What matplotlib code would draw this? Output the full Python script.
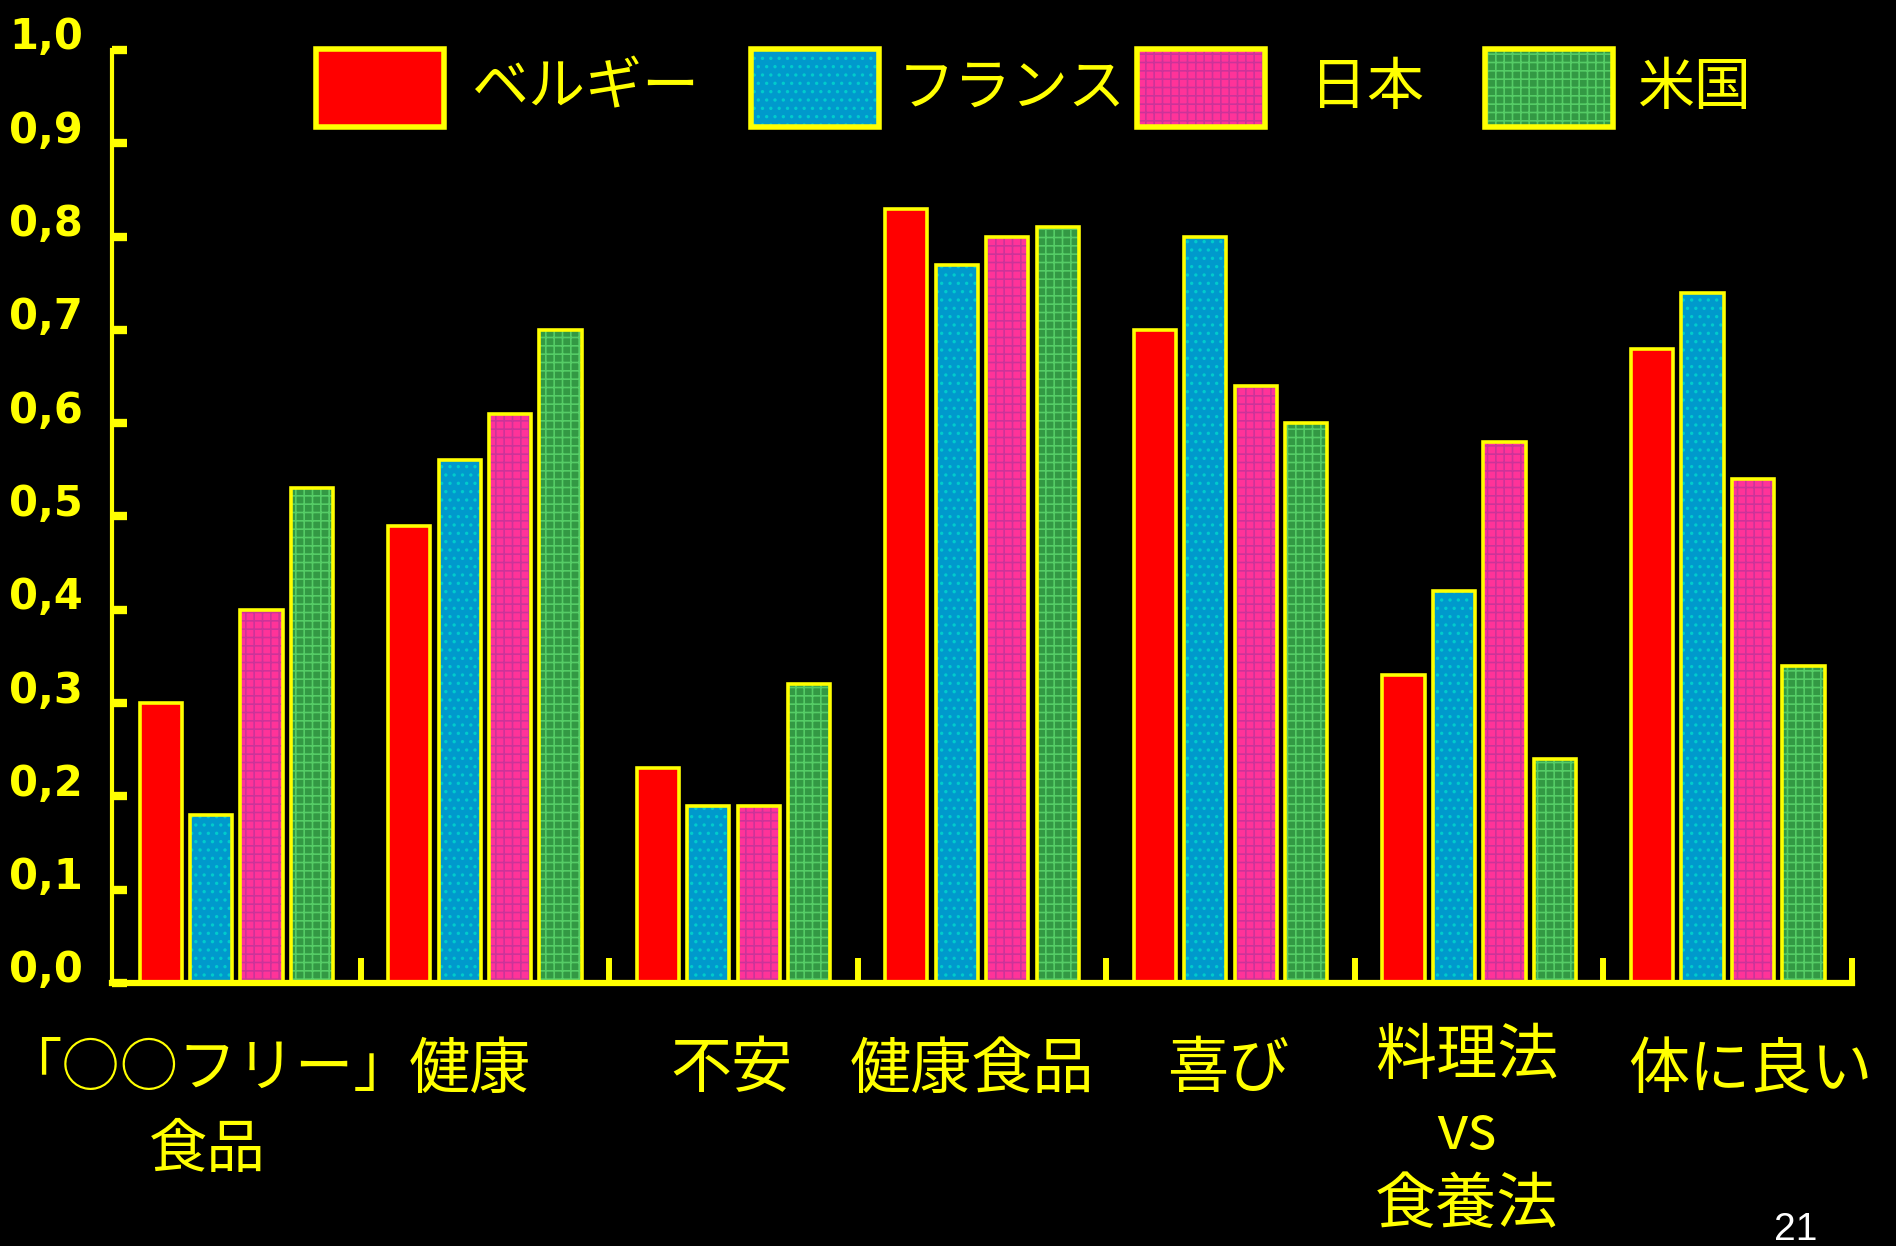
import matplotlib
matplotlib.use("Agg")
import matplotlib.pyplot as plt
import matplotlib.transforms as mtransforms
from matplotlib.patches import Rectangle
import numpy as np

plt.rcParams['font.family'] = ['Noto Sans CJK JP', 'DejaVu Sans']
plt.rcParams['hatch.linewidth'] = 1.2

# -----------------------
# Data
# -----------------------
categories = ["「○○フリー」\n食品", "健康", "不安", "健康食品", "喜び",
              "料理法\nvs\n食養法", "体に良い"]
countries = ["ベルギー", "フランス", "日本", "米国"]
belgium = [0.30, 0.49, 0.23, 0.83, 0.70, 0.33, 0.68]
france = [0.18, 0.56, 0.19, 0.77, 0.80, 0.42, 0.74]
japan = [0.40, 0.61, 0.19, 0.80, 0.64, 0.58, 0.54]
usa = [0.53, 0.70, 0.32, 0.81, 0.60, 0.24, 0.34]
yticks = np.round(np.arange(0, 1.01, 0.1), 1)

series = [belgium, france, japan, usa]
faces = ["#ff0000", "#0099cc", "#ff3399", "#339944"]
hatch_colors = ["#ff0000", "#00cccc", "#cc3399", "#55cc66"]
hatches = [None, "..", "++", "++"]
YEL = "#ffff00"

# -----------------------
# Plot
# -----------------------
fig = plt.figure(figsize=(18.96, 12.46), dpi=100, facecolor="black")
ax = fig.add_axes([0.0591, 0.2111, 0.9177, 0.7488])
ax.set_facecolor("black")

x = np.arange(len(categories)) + 0.5
pitch = 0.203
width = 0.17

for k, vals in enumerate(series):
    pos = x + (k - 1.5) * pitch
    ax.bar(pos, vals, width, color=faces[k], edgecolor=hatch_colors[k],
           hatch=hatches[k], linewidth=0, zorder=2)
    ax.bar(pos, vals, width, fill=False, edgecolor=YEL, linewidth=2.6, zorder=3)

ax.set_xlim(0, len(categories))
ax.set_ylim(0, 1.0)

for s in ["top", "right"]:
    ax.spines[s].set_visible(False)
ax.spines["left"].set_color(YEL)
ax.spines["left"].set_linewidth(3)
ax.spines["bottom"].set_color(YEL)
ax.spines["bottom"].set_linewidth(4.5)
ax.spines["bottom"].set_zorder(4)

ax.set_xticks(np.arange(1, len(categories) + 1))
ax.tick_params(axis="x", direction="in", length=18, width=4.3, color=YEL,
               labelbottom=False)

ax.set_yticks(yticks)
ax.set_yticklabels([f"{v:.1f}".replace(".", ",") for v in yticks])
ax.tick_params(axis="y", direction="in", length=11, width=6, color=YEL,
               labelcolor=YEL, labelsize=30, pad=21)
shift = mtransforms.ScaledTranslation(0, 0.17, fig.dpi_scale_trans)
for lbl in ax.get_yticklabels():
    lbl.set_family("DejaVu Sans")
    lbl.set_fontweight("bold")
    lbl.set_transform(lbl.get_transform() + shift)

# category labels
label_shift = [-0.115, -0.06, -0.01, -0.04, -0.01, -0.05, 0.09]
label_top = [-0.06, -0.06, -0.06, -0.06, -0.06, -0.046, -0.06]
label_spacing = [1.42, 1.3, 1.3, 1.3, 1.3, 1.24, 1.3]
label_size = [42, 44, 44, 44, 44, 44, 44]
trans = mtransforms.blended_transform_factory(ax.transData, ax.transAxes)
for i, cat in enumerate(categories):
    ax.text(x[i] + label_shift[i], label_top[i], cat, transform=trans,
            ha="center", va="top", color=YEL, fontsize=label_size[i],
            linespacing=label_spacing[i])

# legend
patch_left = [316, 751, 1137, 1485]
text_left = [472, 898, 1310, 1638]
W, H = 1896, 1246
for k, name in enumerate(countries):
    r = Rectangle((patch_left[k] / W, 1 - 127 / H), 128 / W, 78 / H,
                  transform=fig.transFigure, facecolor=faces[k],
                  edgecolor=hatch_colors[k], hatch=hatches[k], linewidth=0)
    fig.add_artist(r)
    r2 = Rectangle((patch_left[k] / W, 1 - 127 / H), 128 / W, 78 / H,
                   transform=fig.transFigure, fill=False,
                   edgecolor=YEL, linewidth=4)
    fig.add_artist(r2)
    fig.text(text_left[k] / W, 1 - 88 / H, name, ha="left", va="center",
             color=YEL, fontsize=41)

fig.text(1796 / W, 6 / H, "21", ha="center", va="baseline", color="white",
         fontsize=28, family="Liberation Sans")

fig.savefig("out.png", dpi=100, facecolor="black")
